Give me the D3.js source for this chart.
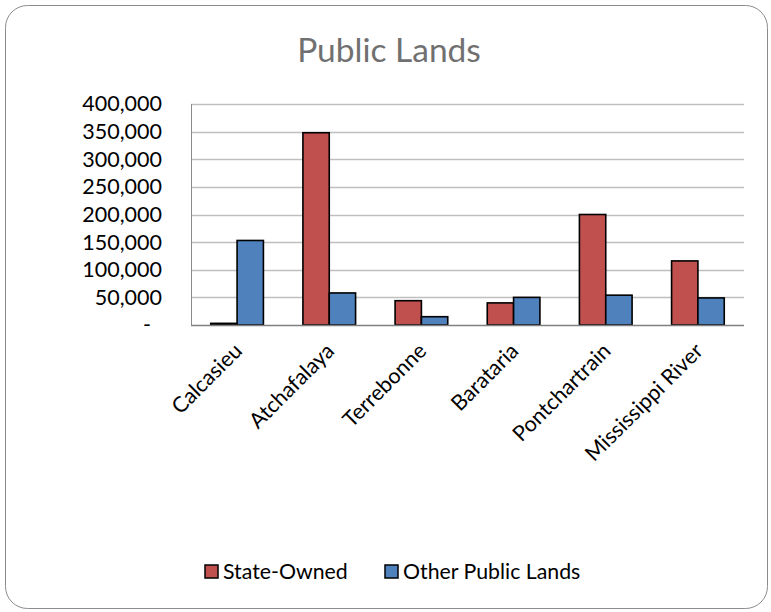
<!DOCTYPE html>
<html>
<head>
<meta charset="utf-8">
<script src="https://cdn.jsdelivr.net/npm/d3@7"></script>
<style>
  html, body { margin: 0; padding: 0; background: #fff; }
  svg { display: block; font-family: Lato, "Open Sans", sans-serif; }
</style>
</head>
<body>
<svg id="chart" width="771" height="612"></svg>
<script>
// Public land acreage by basin
const basins = ["Calcasieu", "Atchafalaya", "Terrebonne", "Barataria", "Pontchartrain", "Mississippi River"];
const stateOwned = [3000, 348000, 44000, 40000, 200000, 116000];
const otherPublic = [153000, 58000, 15000, 50000, 54000, 49000];
const seriesNames = ["State-Owned", "Other Public Lands"];
const seriesColors = ["#C0504D", "#4F81BD"];
const yTicks = [0, 50000, 100000, 150000, 200000, 250000, 300000, 350000, 400000];

const svg = d3.select("#chart");
const W = 771, H = 612;
const plot = { left: 191, right: 744, top: 104, bottom: 325 };

// frame
svg.append("rect")
  .attr("x", 5.5).attr("y", 5.5)
  .attr("width", W - 9).attr("height", H - 9)
  .attr("rx", 22).attr("ry", 22)
  .attr("fill", "#fff").attr("stroke", "#8c8c8c").attr("stroke-width", 1);

// title
svg.append("text")
  .attr("x", 389).attr("y", 62)
  .attr("text-anchor", "middle")
  .attr("font-size", 33.5)
  .attr("fill", "#707070")
  .text("Public Lands");

const x0 = d3.scaleBand().domain(basins).range([plot.left, plot.right]).paddingInner(0).paddingOuter(0);
const y = d3.scaleLinear().domain([0, 400000]).range([plot.bottom, plot.top]);

// gridlines
svg.append("g")
  .selectAll("line")
  .data(yTicks.filter(d => d > 0))
  .join("line")
  .attr("x1", plot.left).attr("x2", plot.right)
  .attr("y1", d => Math.round(y(d)) + 0.5).attr("y2", d => Math.round(y(d)) + 0.5)
  .attr("stroke", "#bfbfbf").attr("stroke-width", 1.3);

// y axis labels
const fmt = d3.format(",");
const yAxis = d3.axisLeft(y)
  .tickValues(yTicks)
  .tickSize(0)
  .tickPadding(29)
  .tickFormat(d => d === 0 ? "-" : fmt(d));
const gy = svg.append("g").attr("transform", `translate(${plot.left},0)`).call(yAxis);
gy.select(".domain").remove();
gy.selectAll("text")
  .attr("font-size", 21.5)
  .attr("fill", "#000")
  .attr("font-family", "Lato, sans-serif");
gy.selectAll(".tick text").attr("x", -29);
// the zero label is a dash placed a bit further left
gy.selectAll(".tick").filter(d => d === 0).select("text").attr("x", -40);

// left axis line
svg.append("line")
  .attr("x1", plot.left + 0.5).attr("x2", plot.left + 0.5)
  .attr("y1", plot.top).attr("y2", plot.bottom)
  .attr("stroke", "#8c8c8c").attr("stroke-width", 1);

// bars
const gap = 1.5; // gap width relative to a bar
const barW = x0.bandwidth() / (2 + gap);
const x1 = d3.scaleBand().domain([0, 1]).range([0, 2 * barW]);

const groups = svg.append("g")
  .selectAll("g")
  .data(basins.map((b, i) => ({ basin: b, vals: [stateOwned[i], otherPublic[i]] })))
  .join("g")
  .attr("transform", d => `translate(${x0(d.basin) + barW * gap / 2},0)`);

groups.selectAll("rect")
  .data(d => d.vals.map((v, s) => ({ v, s })))
  .join("rect")
  .attr("x", d => x1(d.s))
  .attr("y", d => y(d.v))
  .attr("width", x1.bandwidth())
  .attr("height", d => y(0) - y(d.v))
  .attr("fill", d => seriesColors[d.s])
  .attr("stroke", "#000")
  .attr("stroke-width", 1.6);

// baseline
svg.append("line")
  .attr("x1", plot.left).attr("x2", plot.right)
  .attr("y1", plot.bottom + 0.5).attr("y2", plot.bottom + 0.5)
  .attr("stroke", "#7f7f7f").attr("stroke-width", 1.5);

// category labels
svg.append("g")
  .selectAll("text")
  .data(basins)
  .join("text")
  .attr("transform", d => `translate(${x0(d) + x0.bandwidth() / 2 + 1},${plot.bottom + 22}) rotate(-45)`)
  .attr("text-anchor", "end")
  .attr("dy", "0.35em")
  .attr("font-size", 21.5)
  .attr("fill", "#000")
  .text(d => d);

// legend
const legendItems = [
  { name: seriesNames[0], color: seriesColors[0], x: 205 },
  { name: seriesNames[1], color: seriesColors[1], x: 385 }
];
const lg = svg.append("g").selectAll("g").data(legendItems).join("g")
  .attr("transform", d => `translate(${d.x},565)`);
lg.append("rect")
  .attr("width", 13).attr("height", 13)
  .attr("fill", d => d.color)
  .attr("stroke", "#000").attr("stroke-width", 1.5);
lg.append("text")
  .attr("x", 18).attr("y", 6.5)
  .attr("dy", "0.35em")
  .attr("font-size", 21.3)
  .attr("fill", "#000")
  .text(d => d.name);
</script>
</body>
</html>
